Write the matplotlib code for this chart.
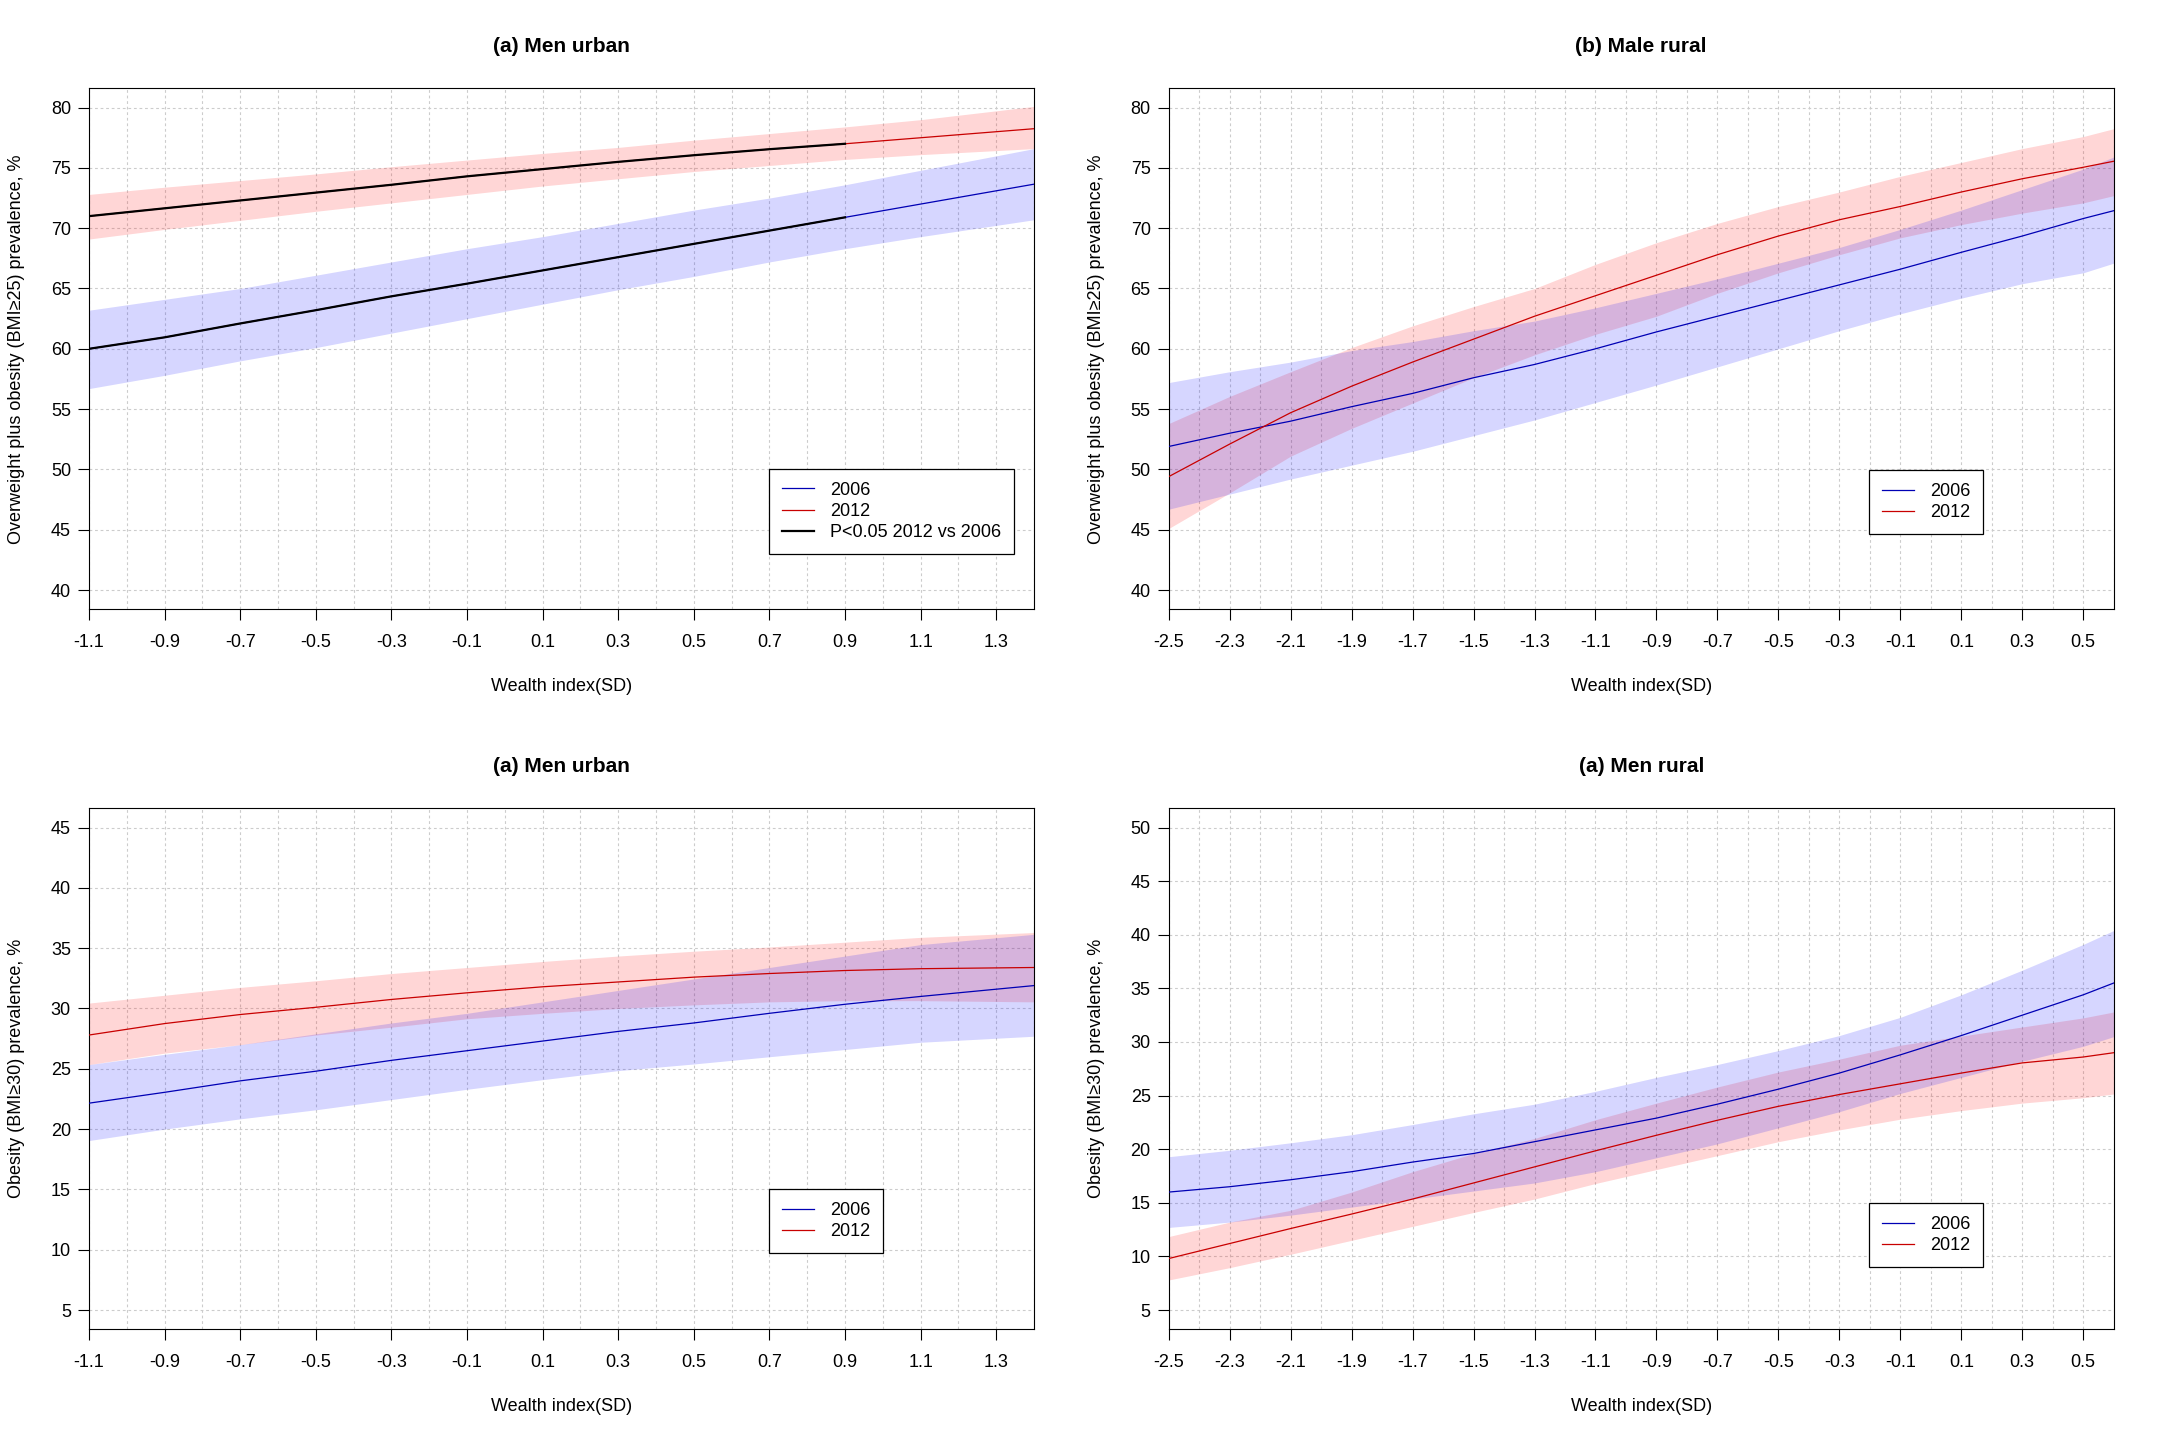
import numpy as np
import matplotlib
matplotlib.use("Agg")
import matplotlib.pyplot as plt
from matplotlib.lines import Line2D

plt.rcParams['font.family'] = ['Liberation Sans', 'DejaVu Sans']

# ---- data ----
# (a) men urban, overweight + obesity
x_urban = [-1.1, -0.9, -0.7, -0.5, -0.3, -0.1, 0.1, 0.3, 0.5, 0.7, 0.9, 1.1, 1.4]
ow_urban_2006 = [60.0, 60.95, 62.1, 63.2, 64.35, 65.4, 66.5, 67.6, 68.7, 69.8, 70.9, 72.0, 73.65]
ow_urban_2006_hi = [63.2, 64.1, 65.0, 66.1, 67.2, 68.3, 69.3, 70.4, 71.5, 72.5, 73.6, 74.8, 76.6]
ow_urban_2006_lo = [56.7, 57.8, 59.0, 60.1, 61.3, 62.5, 63.7, 64.9, 66.0, 67.2, 68.3, 69.3, 70.7]
ow_urban_2012 = [71.0, 71.65, 72.3, 72.95, 73.6, 74.3, 74.9, 75.5, 76.05, 76.55, 77.0, 77.5, 78.25]
ow_urban_2012_hi = [72.8, 73.4, 73.95, 74.5, 75.1, 75.65, 76.2, 76.7, 77.3, 77.85, 78.4, 79.0, 80.1]
ow_urban_2012_lo = [69.1, 69.9, 70.65, 71.4, 72.1, 72.8, 73.5, 74.1, 74.7, 75.2, 75.7, 76.1, 76.6]
ow_urban_sig_end = 0.9

# (b) male rural, overweight + obesity
x_rural = [-2.5, -2.3, -2.1, -1.9, -1.7, -1.5, -1.3, -1.1, -0.9, -0.7, -0.5, -0.3, -0.1,
           0.1, 0.3, 0.5, 0.6]
ow_rural_2006 = [51.9, 53.0, 54.0, 55.2, 56.3, 57.6, 58.7, 60.0, 61.4, 62.7, 64.0, 65.3, 66.6,
                 68.0, 69.35, 70.8, 71.45]
ow_rural_2006_hi = [57.2, 58.1, 58.9, 59.85, 60.6, 61.5, 62.3, 63.4, 64.6, 65.8, 67.1, 68.4, 69.9,
                    71.5, 73.2, 74.9, 75.9]
ow_rural_2006_lo = [46.7, 47.95, 49.2, 50.35, 51.5, 52.8, 54.1, 55.55, 57.0, 58.5, 60.0, 61.5, 62.9,
                    64.2, 65.4, 66.3, 67.1]
ow_rural_2012 = [49.4, 52.1, 54.7, 56.9, 58.9, 60.8, 62.7, 64.4, 66.1, 67.8, 69.35, 70.7, 71.8,
                 73.0, 74.1, 75.05, 75.55]
ow_rural_2012_hi = [53.8, 56.05, 58.1, 60.1, 61.9, 63.5, 65.0, 67.0, 68.8, 70.4, 71.8, 73.0, 74.3,
                    75.45, 76.6, 77.6, 78.25]
ow_rural_2012_lo = [45.1, 48.05, 51.1, 53.4, 55.5, 57.6, 59.5, 61.2, 62.7, 64.6, 66.3, 67.8, 69.2,
                    70.3, 71.25, 72.1, 72.7]

# obesity, men urban
ob_urban_2006 = [22.15, 23.05, 24.0, 24.8, 25.7, 26.5, 27.3, 28.1, 28.8, 29.6, 30.35, 31.0, 31.9]
ob_urban_2006_hi = [25.35, 26.2, 27.0, 27.9, 28.8, 29.6, 30.55, 31.5, 32.45, 33.4, 34.35, 35.3, 36.15]
ob_urban_2006_lo = [19.05, 20.0, 20.85, 21.6, 22.45, 23.3, 24.1, 24.85, 25.4, 26.0, 26.6, 27.2, 27.7]
ob_urban_2012 = [27.8, 28.75, 29.5, 30.1, 30.75, 31.3, 31.8, 32.2, 32.6, 32.9, 33.15, 33.3, 33.4]
ob_urban_2012_hi = [30.45, 31.1, 31.75, 32.3, 32.9, 33.4, 33.9, 34.35, 34.75, 35.1, 35.5, 35.9, 36.3]
ob_urban_2012_lo = [25.35, 26.3, 27.0, 27.8, 28.45, 29.15, 29.6, 30.0, 30.3, 30.55, 30.65, 30.65, 30.55]

# obesity, men rural
ob_rural_2006 = [16.0, 16.5, 17.15, 17.9, 18.8, 19.6, 20.7, 21.8, 22.9, 24.2, 25.6, 27.1, 28.8,
                 30.6, 32.5, 34.4, 35.5]
ob_rural_2006_hi = [19.3, 19.9, 20.6, 21.35, 22.3, 23.3, 24.2, 25.4, 26.7, 27.9, 29.2, 30.6, 32.3,
                    34.4, 36.7, 39.1, 40.4]
ob_rural_2006_lo = [12.7, 13.2, 13.85, 14.6, 15.35, 16.1, 16.85, 17.9, 19.2, 20.5, 22.0, 23.5, 25.2,
                    26.7, 28.2, 29.6, 30.5]
ob_rural_2012 = [9.8, 11.2, 12.6, 13.95, 15.35, 16.85, 18.35, 19.85, 21.3, 22.7, 24.0, 25.1, 26.1,
                 27.1, 28.05, 28.6, 29.0]
ob_rural_2012_hi = [11.85, 13.2, 14.3, 16.0, 17.9, 19.6, 21.0, 22.75, 24.3, 25.8, 27.2, 28.4, 29.7,
                    30.55, 31.4, 32.25, 32.8]
ob_rural_2012_lo = [7.8, 8.95, 10.2, 11.5, 12.8, 14.1, 15.35, 16.8, 18.1, 19.4, 20.7, 21.8, 22.8,
                    23.6, 24.3, 24.8, 25.15]

titles = ["(a) Men urban", "(b) Male rural", "(a) Men urban", "(a) Men rural"]
ylabel_ow = "Overweight plus obesity (BMI\u226525) prevalence, %"
ylabel_ob = "Obesity (BMI\u226530) prevalence, %"
xlabel = "Wealth index(SD)"

BLUE = "#0000b4"
RED = "#c80000"
FS = 13


def draw_panel(ax, x, m06, lo06, hi06, m12, lo12, hi12, title, ylab,
               xlim, xticks, yticks, ylim, leg_anchor, sig_end=None):
    x = np.array(x)
    ax.fill_between(x, lo12, hi12, color=(1, 0, 0, 0.16), lw=0, zorder=2)
    ax.fill_between(x, lo06, hi06, color=(0, 0, 1, 0.16), lw=0, zorder=2)
    ax.plot(x, m06, color=BLUE, lw=0.9, zorder=3)
    ax.plot(x, m12, color=RED, lw=0.9, zorder=3)
    handles = [Line2D([], [], color=BLUE, lw=0.9), Line2D([], [], color=RED, lw=0.9)]
    labels = ["2006", "2012"]
    if sig_end is not None:
        k = x <= sig_end + 1e-9
        ax.plot(x[k], np.array(m06)[k], color="black", lw=1.6, zorder=4)
        ax.plot(x[k], np.array(m12)[k], color="black", lw=1.6, zorder=4)
        handles.append(Line2D([], [], color="black", lw=1.6))
        labels.append("P<0.05 2012 vs 2006")

    ax.set_xlim(*xlim)
    ax.set_ylim(*ylim)
    ax.set_xticks(xticks)
    ax.set_xticklabels(["%.1f" % v for v in xticks])
    ax.set_xticks(np.round(np.arange(xlim[0], xlim[1] + 0.001, 0.1), 1), minor=True)
    ax.set_yticks(yticks)
    ax.set_yticklabels(["%d" % v for v in yticks])
    ax.tick_params(axis='both', which='major', direction='out', length=8, width=0.8,
                   labelsize=FS, pad=5)
    ax.tick_params(axis='x', which='major', pad=10)
    ax.tick_params(axis='x', which='minor', length=0)
    ax.grid(True, axis='x', which='both', color='#cccccc', lw=0.8, ls=(0, (2.5, 2.5)), zorder=0)
    ax.grid(True, axis='y', which='major', color='#cccccc', lw=0.8, ls=(0, (2.5, 2.5)), zorder=0)
    ax.set_axisbelow(True)
    for s in ax.spines.values():
        s.set_linewidth(0.8)
        s.set_color('black')

    ax.text(0.5, 1 + 42 / 521, title, transform=ax.transAxes, ha='center', va='center',
            fontsize=15, fontweight='bold')
    ax.set_xlabel(xlabel, fontsize=FS)
    ax.xaxis.set_label_coords(0.5, -77 / 521)
    ax.xaxis.label.set_va('center')
    ax.set_ylabel(ylab, fontsize=FS)
    ax.yaxis.set_label_coords(-72 / 945, 0.5)
    ax.yaxis.label.set_va('center')

    leg = ax.legend(handles, labels, loc='upper left', bbox_to_anchor=leg_anchor,
                    borderaxespad=0, fontsize=FS, frameon=True, fancybox=False,
                    framealpha=1, edgecolor='black', borderpad=0.7, labelspacing=0.24,
                    handlelength=1.8, handletextpad=0.9)
    leg.get_frame().set_linewidth(0.9)
    leg.set_zorder(5)


fig = plt.figure(figsize=(21.6, 14.4), dpi=100)
W, H = 2160.0, 1440.0
aw, ah = 945 / W, 521 / H
ax1 = fig.add_axes([89 / W, 1 - 609.3 / H, aw, ah])
ax2 = fig.add_axes([1168.7 / W, 1 - 609.3 / H, aw, ah])
ax3 = fig.add_axes([89 / W, 1 - 1329.3 / H, aw, ah])
ax4 = fig.add_axes([1168.7 / W, 1 - 1329.3 / H, aw, ah])

xt_urban = np.round(np.arange(-1.1, 1.31, 0.2), 1)
xt_rural = np.round(np.arange(-2.5, 0.51, 0.2), 1)

draw_panel(ax1, x_urban, ow_urban_2006, ow_urban_2006_lo, ow_urban_2006_hi,
           ow_urban_2012, ow_urban_2012_lo, ow_urban_2012_hi, titles[0], ylabel_ow,
           (-1.1, 1.4), xt_urban, np.arange(40, 81, 5), (38.4, 81.6), (0.7196, 0.269),
           sig_end=ow_urban_sig_end)
draw_panel(ax2, x_rural, ow_rural_2006, ow_rural_2006_lo, ow_rural_2006_hi,
           ow_rural_2012, ow_rural_2012_lo, ow_rural_2012_hi, titles[1], ylabel_ow,
           (-2.5, 0.6), xt_rural, np.arange(40, 81, 5), (38.4, 81.6), (0.741, 0.267))
draw_panel(ax3, x_urban, ob_urban_2006, ob_urban_2006_lo, ob_urban_2006_hi,
           ob_urban_2012, ob_urban_2012_lo, ob_urban_2012_hi, titles[2], ylabel_ob,
           (-1.1, 1.4), xt_urban, np.arange(5, 46, 5), (3.4, 46.6), (0.7196, 0.2685))
draw_panel(ax4, x_rural, ob_rural_2006, ob_rural_2006_lo, ob_rural_2006_hi,
           ob_rural_2012, ob_rural_2012_lo, ob_rural_2012_hi, titles[3], ylabel_ob,
           (-2.5, 0.6), xt_rural, np.arange(5, 51, 5), (3.2, 51.8), (0.741, 0.242))

fig.savefig("out.png", dpi=100, facecolor='white')
